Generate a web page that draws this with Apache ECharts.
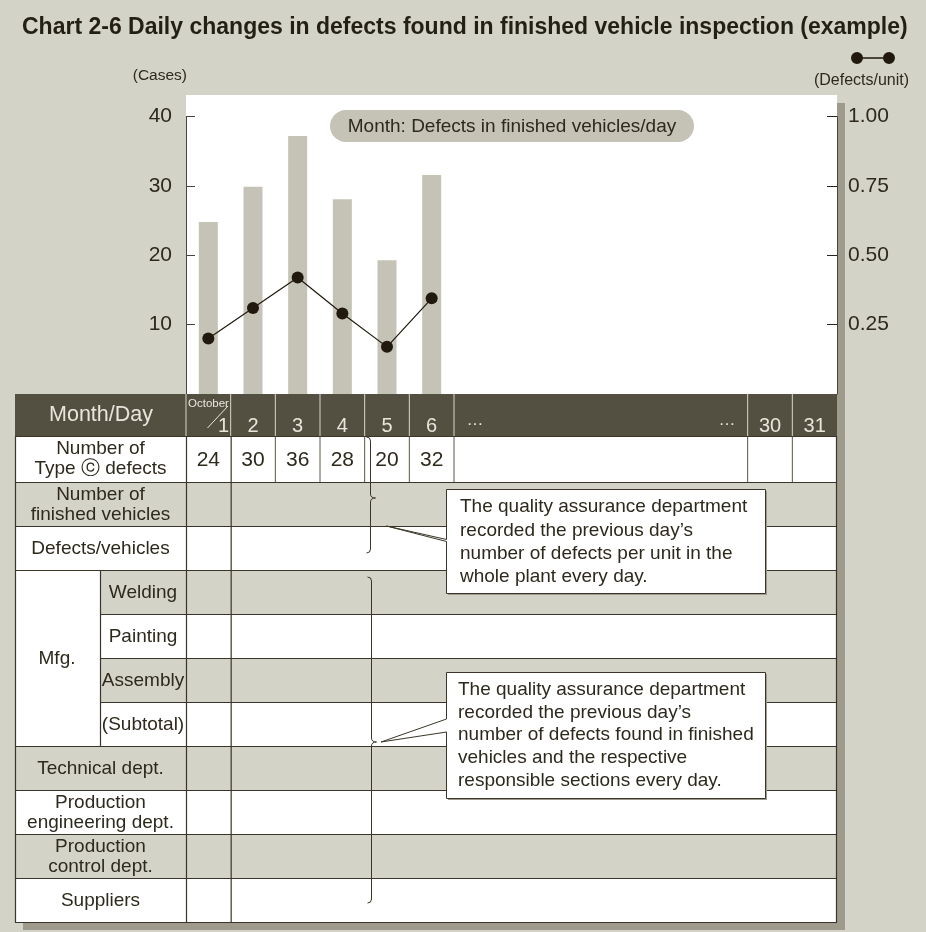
<!DOCTYPE html>
<html>
<head>
<meta charset="utf-8">
<script src="https://cdn.jsdelivr.net/npm/echarts@6/dist/echarts.min.js"></script>
<style>
html,body{margin:0;padding:0;background:#d4d3c7;}
#c{width:926px;height:932px;}
</style>
</head>
<body>
<div id="c"></div>
<script>
// ---------------- data ----------------
const titleText = 'Chart 2-6 Daily changes in defects found in finished vehicle inspection (example)';
const days = ['1', '2', '3', '4', '5', '6'];
const casesPerDay = [24.8, 29.9, 37.2, 28.1, 19.3, 31.6];          // bars (Cases)
const defectsPerUnit = [0.20, 0.31, 0.42, 0.29, 0.17, 0.345];     // line (Defects/unit)
const typeCDefects = ['24', '30', '36', '28', '20', '32'];         // table row values
const monthLabel = 'October';
const lastDays = ['30', '31'];
const leftAxisName = '(Cases)';
const rightAxisName = '(Defects/unit)';
const seriesBarName = 'Cases';
const seriesLineName = 'Defects/unit';
const pillText = 'Month: Defects in finished vehicles/day';
const headerLabel = 'Month/Day';
const firstRowLabel = ['Number of', 'Type \u24D2 defects'];
const tableRows = [
  ['Number of', 'finished vehicles'],
  ['Defects/vehicles'],
  ['Welding'],
  ['Painting'],
  ['Assembly'],
  ['(Subtotal)'],
  ['Technical dept.'],
  ['Production', 'engineering dept.'],
  ['Production', 'control dept.'],
  ['Suppliers']
];
const mfgLabel = 'Mfg.';
const mfgRows = [2, 3, 4, 5];
const note1 = [
  'The quality assurance department',
  'recorded the previous day\u2019s',
  'number of defects per unit in the',
  'whole plant every day.'
];
const note2 = [
  'The quality assurance department',
  'recorded the previous day\u2019s',
  'number of defects found in finished',
  'vehicles and the respective',
  'responsible sections every day.'
];

// ---------------- layout ----------------
const FONT = '"Liberation Sans", Arial, Helvetica, sans-serif';
const BG = '#d4d3c7';
const DARK = '#3a3528';
const TXT = '#2e291d';
const HDR_BG = '#545041';
const HDR_TXT = '#e8e6dc';
const SHADOW = '#9e9b8c';
const TL = 15, TR = 837, X0 = 186, COLW = (454 - 186) / 6;
const Y_AX0 = 394, Y_HDR = 436, Y_R1 = 482, ROWH = 44;
const colCenter = i => X0 + COLW * (i + 0.5);

const G = [];
const rect = (x, y, w, h, fill, z) => G.push({type: 'rect', silent: true, z: z, shape: {x: x, y: y, width: w, height: h}, style: {fill: fill}});
const line = (x1, y1, x2, y2, stroke, lw, z) => G.push({type: 'line', silent: true, z: z == null ? 3 : z, shape: {x1: x1, y1: y1, x2: x2, y2: y2}, style: {stroke: stroke, lineWidth: lw || 1}});
const curve = (x1, y1, cx, cy, x2, y2, stroke, z) => G.push({type: 'bezierCurve', silent: true, z: z, shape: {x1: x1, y1: y1, cpx1: cx, cpy1: cy, x2: x2, y2: y2}, style: {stroke: stroke, fill: null, lineWidth: 1}});
const text = (x, y, t, size, fill, align, z) => G.push({type: 'text', silent: true, z: z == null ? 4 : z, x: x, y: y,
  style: {text: t, fill: fill, fontSize: size, fontFamily: FONT, textAlign: align || 'center', textVerticalAlign: 'middle'}});
const brace = (x, top, mid, bot, tip) => {
  curve(x - 4, top, x, top, x, top + 4, DARK, 6);
  line(x, top + 4, x, mid - 4, DARK, 1, 6);
  curve(x, mid - 4, x, mid, x + tip, mid, DARK, 6);
  curve(x + tip, mid, x, mid, x, mid + 4, DARK, 6);
  line(x, mid + 4, x, bot - 4, DARK, 1, 6);
  curve(x, bot - 4, x, bot, x - 4, bot, DARK, 6);
};

// shadows and white plot area
rect(TR, 103, 8, 827, SHADOW, -3);
rect(23, 922, TR + 8 - 23, 8, SHADOW, -3);
rect(X0, 95, TR - X0, Y_AX0 - 95, '#ffffff', -2);

// pill label
G.push({type: 'rect', silent: true, z: 1, shape: {x: 330, y: 110, width: 364, height: 32, r: 16}, style: {fill: '#c5c3b5'}});
text(512, 126.5, pillText, 19, TXT, 'center', 2);

// header row
rect(TL, Y_AX0, TR - TL, Y_HDR - Y_AX0, HDR_BG, 1);
text(101, 415, headerLabel, 21.5, HDR_TXT);
const hdrBounds = [];
for (let i = 0; i <= 6; i++) hdrBounds.push(X0 + COLW * i);
hdrBounds.push(TR - 2 * COLW, TR - COLW);
hdrBounds.forEach(x => line(x, Y_AX0, x, Y_HDR, '#d8d6cc', 1, 2));
text(208.5, 403.5, monthLabel, 11.5, HDR_TXT);
line(207.5, 428, 228, 406, HDR_TXT, 1, 3);
text(223.5, 426.5, days[0], 20, HDR_TXT);
for (let i = 1; i < days.length; i++) text(colCenter(i), 426.5, days[i], 20, HDR_TXT);
text(475, 420.5, '\u2026', 17, HDR_TXT);
text(727, 420.5, '\u2026', 17, HDR_TXT);
lastDays.forEach((d, k) => text(TR - COLW * (1.5 - k), 426.5, d, 20, HDR_TXT));

// first data row
rect(TL, Y_HDR, TR - TL, Y_R1 - Y_HDR, '#ffffff', 1);
text(100.5, 449, firstRowLabel[0], 19, TXT);
text(100.5, 469, firstRowLabel[1], 19, TXT);
typeCDefects.forEach((v, i) => text(colCenter(i), 460, v, 21, TXT));
[2, 3, 4, 5, 6].forEach(i => line(X0 + COLW * i, Y_HDR, X0 + COLW * i, Y_R1, '#5a5648', 1, 3));
[TR - 2 * COLW, TR - COLW].forEach(x => line(x, Y_HDR, x, Y_R1, '#5a5648', 1, 3));

// remaining rows
tableRows.forEach((lab, i) => {
  const y = Y_R1 + ROWH * i;
  rect(TL, y, TR - TL, ROWH, i % 2 === 0 ? BG : '#ffffff', 1);
  const isSub = mfgRows.indexOf(i) >= 0;
  const cx = isSub ? 143 : 100.5;
  const cy = y + ROWH / 2 + 1;
  if (lab.length === 2) { text(cx, cy - 10, lab[0], 19, TXT); text(cx, cy + 10, lab[1], 19, TXT); }
  else text(cx, cy, lab[0], 19, TXT);
});
const mfgTop = Y_R1 + ROWH * mfgRows[0];
const mfgBot = Y_R1 + ROWH * (mfgRows[mfgRows.length - 1] + 1);
rect(TL, mfgTop, 100 - TL, mfgBot - mfgTop, '#ffffff', 1.5);
text(57, (mfgTop + mfgBot) / 2 + 1, mfgLabel, 19, TXT);

// grid lines of table
line(TL, Y_HDR + 0.5, TR, Y_HDR + 0.5, DARK, 1.2);
for (let i = 0; i <= tableRows.length; i++) {
  const y = Y_R1 + ROWH * i + 0.5;
  const inner = i > 0 && mfgRows.indexOf(i) >= 0 && mfgRows.indexOf(i - 1) >= 0;
  line(inner ? 100 : TL, y, TR, y, DARK, 1.2);
}
line(TL + 0.5, Y_HDR, TL + 0.5, 922.5, DARK, 1.2);
line(TR - 0.5, Y_HDR, TR - 0.5, 922.5, DARK, 1.2);
line(X0 + 0.5, Y_HDR, X0 + 0.5, 922.5, DARK, 1.2);
line(X0 + COLW + 0.5, Y_HDR, X0 + COLW + 0.5, 922.5, DARK, 1.2);
line(100.5, mfgTop, 100.5, mfgBot, DARK, 1.2);

// braces
brace(370.5, 437, 498, 553, 5);
brace(371.5, 577, 742, 903, 5);

// callouts
rect(448, 491, 319, 104, SHADOW, 7);
G.push({type: 'polygon', silent: true, z: 8, shape: {points: [[446.5, 489.5], [765.5, 489.5], [765.5, 593.5], [446.5, 593.5], [446.5, 541.5], [386.5, 526], [446.5, 539.5]]}, style: {fill: '#ffffff', stroke: DARK, lineWidth: 1}});
note1.forEach((t, k) => text(460, 507 + 23.3 * k, t, 19, TXT, 'left', 9));
rect(448, 674, 319, 126, SHADOW, 7);
G.push({type: 'polygon', silent: true, z: 8, shape: {points: [[446.5, 672.5], [765.5, 672.5], [765.5, 798.5], [446.5, 798.5], [446.5, 732], [381, 742], [446.5, 719]]}, style: {fill: '#ffffff', stroke: DARK, lineWidth: 1}});
note2.forEach((t, k) => text(458, 690 + 22.6 * k, t, 19, TXT, 'left', 9));

// ---------------- chart ----------------
const chart = echarts.init(document.getElementById('c'), null, {renderer: 'canvas'});
chart.setOption({
  animation: false,
  backgroundColor: BG,
  textStyle: {fontFamily: FONT},
  title: {text: titleText, left: 22, top: 16, padding: 0, textStyle: {fontSize: 23, fontWeight: 'bold', color: '#231f14', lineHeight: 24, fontFamily: FONT}},
  legend: {
    data: [{name: seriesLineName, icon: 'path://M6,0A6,6 0 1,1 6,12A6,6 0 1,1 6,0Z M38,0A6,6 0 1,1 38,12A6,6 0 1,1 38,0Z M11,5.3L33,5.3L33,6.7L11,6.7Z'}],
    left: 851, top: 52, itemWidth: 44, itemHeight: 12, itemGap: 0, padding: 0,
    selectedMode: false, formatter: () => '', textStyle: {fontSize: 1}
  },
  grid: {left: X0, top: 116.7, width: 454 - X0, height: Y_AX0 - 116.7, outerBoundsMode: 'none', containLabel: false},
  xAxis: {
    type: 'category', data: days, boundaryGap: true,
    axisLine: {show: false}, axisTick: {show: false}, axisLabel: {show: false}, splitLine: {show: false}
  },
  yAxis: [
    {
      type: 'value', min: 0, max: 40, interval: 10, position: 'left',
      name: leftAxisName, nameLocation: 'end', nameGap: 41,
      nameTextStyle: {fontSize: 15.5, color: TXT, align: 'right', verticalAlign: 'middle', padding: [0, -1, 0, 0]},
      axisLine: {show: true, lineStyle: {color: '#4a4538', width: 1}},
      axisTick: {show: true, inside: true, length: 9, lineStyle: {color: '#4a4538'}},
      axisLabel: {margin: 14, fontSize: 21, color: TXT, showMinLabel: false},
      splitLine: {show: false}
    },
    {
      type: 'value', min: 0, max: 1, interval: 0.25, position: 'right', offset: TR - 454,
      name: rightAxisName, nameLocation: 'end', nameGap: 36,
      nameTextStyle: {fontSize: 16, color: TXT, align: 'center', verticalAlign: 'middle', padding: [0, 0, 0, 49]},
      axisLine: {show: true, lineStyle: {color: '#4a4538', width: 1}},
      axisTick: {show: true, inside: true, length: 10, lineStyle: {color: '#2a2519'}},
      axisLabel: {margin: 11, fontSize: 21, color: TXT, showMinLabel: false, formatter: v => v.toFixed(2)},
      splitLine: {show: false}
    }
  ],
  series: [
    {
      name: seriesBarName, type: 'bar', data: casesPerDay, barWidth: 19,
      itemStyle: {color: '#c5c3b5'}, z: 2, silent: true
    },
    {
      name: seriesLineName, type: 'line', yAxisIndex: 1, data: defectsPerUnit,
      symbol: 'circle', symbolSize: 12, showSymbol: true,
      itemStyle: {color: '#21190e'}, lineStyle: {color: '#21190e', width: 1.2}, z: 3, silent: true
    }
  ],
  graphic: {elements: G}
});
</script>
</body>
</html>
